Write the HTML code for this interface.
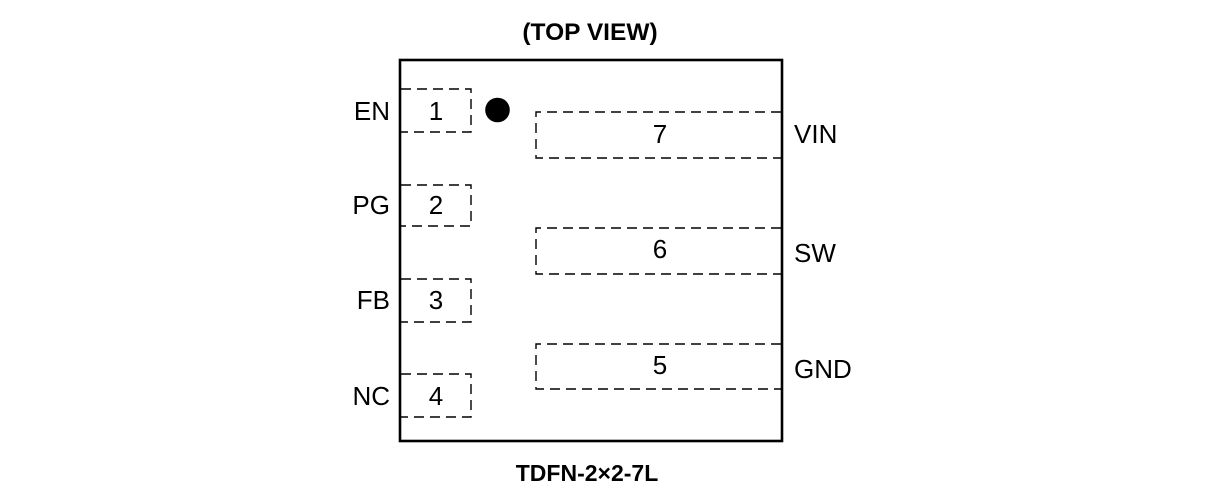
<!DOCTYPE html>
<html>
<head>
<meta charset="utf-8">
<style>
  html, body { margin: 0; padding: 0; background: #fff; }
  svg { display: block; }
  text { font-family: "Liberation Sans", Arial, sans-serif; fill: #000; }
</style>
</head>
<body>
<svg width="1209" height="497" viewBox="0 0 1209 497" xmlns="http://www.w3.org/2000/svg">
  <rect x="0" y="0" width="1209" height="497" fill="#fff"/>

  <!-- Title -->
  <text x="590" y="40" font-size="24.5" font-weight="bold" text-anchor="middle">(TOP VIEW)</text>

  <!-- Package body -->
  <rect x="400" y="60" width="382" height="381" fill="none" stroke="#000" stroke-width="2.6"/>

  <!-- Pin 1 marker -->
  <circle cx="497.5" cy="110" r="12.3" fill="#000"/>

  <!-- Left pads -->
  <g fill="none" stroke="#000" stroke-width="1.4" stroke-dasharray="10,6">
    <path d="M401 89 H471 V132 H401"/>
    <path d="M401 185 H471 V226 H401"/>
    <path d="M401 279 H471 V322 H401"/>
    <path d="M401 374 H471 V417 H401"/>
  </g>

  <!-- Right pads -->
  <g fill="none" stroke="#000" stroke-width="1.4" stroke-dasharray="10,6">
    <path d="M781 112 H536 V158 H781"/>
    <path d="M781 228 H536 V274 H781"/>
    <path d="M781 344 H536 V389 H781"/>
  </g>

  <!-- Pin numbers -->
  <g font-size="26" text-anchor="middle">
    <text x="436" y="120">1</text>
    <text x="436" y="214">2</text>
    <text x="436" y="309">3</text>
    <text x="436" y="405">4</text>
    <text x="660" y="143">7</text>
    <text x="660" y="258">6</text>
    <text x="660" y="374">5</text>
  </g>

  <!-- Left labels -->
  <g font-size="26" text-anchor="end">
    <text x="390" y="120">EN</text>
    <text x="390" y="214">PG</text>
    <text x="390" y="309">FB</text>
    <text x="390" y="405">NC</text>
  </g>

  <!-- Right labels -->
  <g font-size="26" text-anchor="start">
    <text x="794" y="143">VIN</text>
    <text x="794" y="262">SW</text>
    <text x="794" y="378">GND</text>
  </g>

  <!-- Package name -->
  <text x="587" y="481" font-size="23" font-weight="bold" text-anchor="middle">TDFN-2×2-7L</text>
</svg>
</body>
</html>
